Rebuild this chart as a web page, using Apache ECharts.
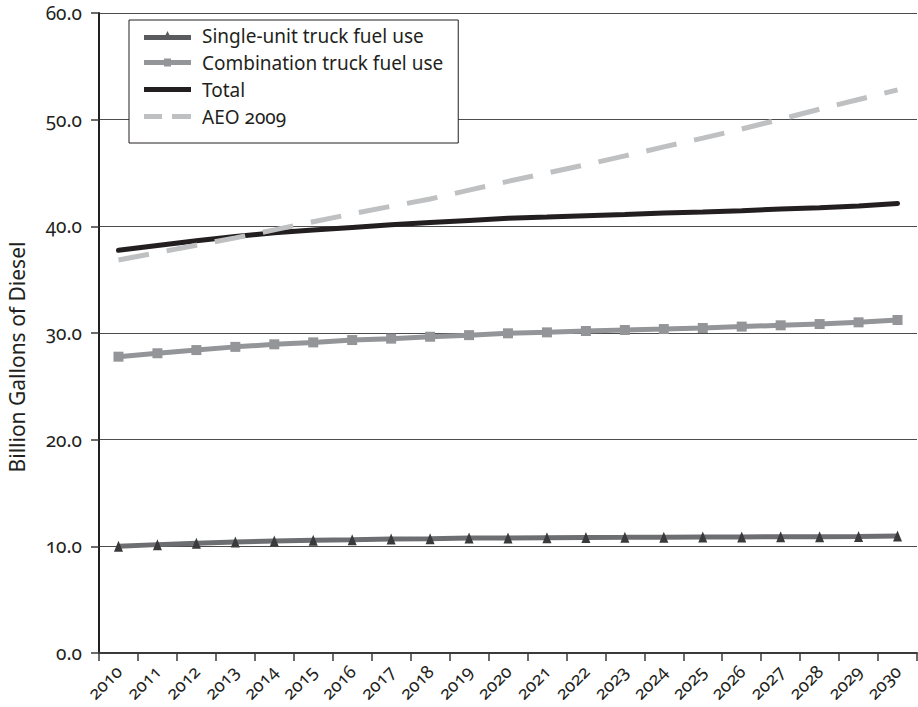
<!DOCTYPE html>
<html>
<head>
<meta charset="utf-8">
<script src="https://cdn.jsdelivr.net/npm/echarts@6/dist/echarts.min.js"></script>
<style>
	html, body { margin: 0; padding: 0; background: #fff; }
	#chart { width: 918px; height: 707px; }
	/* old style figures like the print original */
	svg text { font-variant-numeric: oldstyle-nums !important; font-feature-settings: "onum" 1 !important; }
</style>
</head>
<body>
<div id="chart"></div>
<script>
	// data
	var years = ['2010', '2011', '2012', '2013', '2014', '2015', '2016', '2017', '2018', '2019', '2020',
		'2021', '2022', '2023', '2024', '2025', '2026', '2027', '2028', '2029', '2030'];
	var singleUnit = [10.0, 10.16, 10.3, 10.41, 10.5, 10.56, 10.62, 10.69, 10.72, 10.77, 10.79,
		10.81, 10.83, 10.84, 10.86, 10.87, 10.88, 10.9, 10.91, 10.92, 10.96];
	var combination = [27.78, 28.1, 28.4, 28.7, 28.94, 29.12, 29.34, 29.47, 29.65, 29.8, 29.97,
		30.06, 30.19, 30.28, 30.37, 30.47, 30.6, 30.72, 30.84, 31.0, 31.22];
	var total = [37.75, 38.2, 38.65, 39.05, 39.4, 39.65, 39.9, 40.15, 40.35, 40.55, 40.75,
		40.87, 41.0, 41.12, 41.25, 41.35, 41.47, 41.62, 41.75, 41.9, 42.15];
	var aeo2009 = [36.85, 37.54, 38.23, 38.92, 39.67, 40.43, 41.17, 41.88, 42.56, 43.39, 44.21,
		45.0, 45.78, 46.6, 47.45, 48.27, 49.12, 50.04, 50.98, 51.89, 52.79];
	var yTicks = [0, 10, 20, 30, 40, 50, 60];

	var seriesNames = ['Single-unit truck fuel use', 'Combination truck fuel use', 'Total', 'AEO 2009'];
	var textColor = '#231f20';
	var font = 'Noto Sans';

	// legend icons: thick line with the marker, like the original key
	var iconTriangle = 'path://M0,4h47v5h-47z M23.5,0L28,9L19,9z';
	var iconSquare = 'path://M0,4h47v5h-47z M20,2.5h7v8h-7z';
	var iconSolid = 'path://M0,0h47v5h-47z';
	var iconDash = 'path://M0,0h18v5h-18z M28,0h19v5h-19z';

	var chart = echarts.init(document.getElementById('chart'), null, { renderer: 'svg' });

	var option = {
		animation: false,
		backgroundColor: '#ffffff',
		textStyle: { fontFamily: font, color: textColor },
		grid: {
			left: 99,
			right: 1,
			top: 13,
			bottom: 54,
			containLabel: false,
			outerBoundsMode: 'none'
		},
		legend: {
			orient: 'vertical',
			left: 129,
			top: 20,
			padding: [6, 15, 17, 15],
			itemGap: 8,
			itemWidth: 47,
			itemHeight: 12,
			backgroundColor: '#ffffff',
			borderColor: textColor,
			borderWidth: 1,
			borderRadius: 0,
			textStyle: { fontFamily: font, fontSize: 19, color: textColor, padding: [0, 0, 0, 6] },
			data: [
				{ name: seriesNames[0], icon: iconTriangle, itemStyle: { color: '#5a5b5e' } },
				{ name: seriesNames[1], icon: iconSquare, itemStyle: { color: '#939598' } },
				{ name: seriesNames[2], icon: iconSolid, itemStyle: { color: '#231f20' } },
				{ name: seriesNames[3], icon: iconDash, itemStyle: { color: '#bfc0c2' } }
			]
		},
		// y axis title
		graphic: [{
			type: 'text',
			x: 17,
			y: 357,
			rotation: Math.PI / 2,
			style: {
				text: 'Billion Gallons of Diesel',
				font: '21px "' + font + '"',
				fill: textColor,
				align: 'center',
				verticalAlign: 'middle'
			}
		}],
		xAxis: {
			type: 'category',
			data: years,
			boundaryGap: true,
			axisLine: { show: true, lineStyle: { color: '#3a3a3a', width: 2 } },
			axisTick: { show: true, inside: false, length: 8, lineStyle: { color: '#3a3a3a', width: 1.5 } },
			axisLabel: {
				interval: 0,
				rotate: 45,
				margin: 15,
				fontSize: 18,
				fontFamily: font,
				color: textColor
			},
			splitLine: { show: false }
		},
		yAxis: {
			type: 'value',
			min: yTicks[0],
			max: yTicks[yTicks.length - 1],
			interval: 10,
			axisLine: { show: true, lineStyle: { color: '#231f20', width: 2 } },
			axisTick: { show: true, inside: false, length: 8, lineStyle: { color: '#3a3a3a', width: 1.5 } },
			axisLabel: {
				margin: 17,
				fontSize: 19,
				fontFamily: font,
				color: textColor,
				formatter: function(v) {
					return v.toFixed(1);
				}
			},
			splitLine: { show: true, lineStyle: { color: '#4d4d4d', width: 1.2 } }
		},
		series: [{
				name: seriesNames[0],
				type: 'line',
				data: singleUnit,
				symbol: 'triangle',
				symbolSize: [9, 11],
				showAllSymbol: true,
				lineStyle: { color: '#6d6e71', width: 5 },
				itemStyle: { color: '#3a3a3c', borderWidth: 0 },
				z: 3
			},
			{
				name: seriesNames[1],
				type: 'line',
				data: combination,
				symbol: 'rect',
				symbolSize: 10,
				showAllSymbol: true,
				lineStyle: { color: '#939598', width: 5 },
				itemStyle: { color: '#939598', borderWidth: 0 },
				z: 3
			},
			{
				name: seriesNames[2],
				type: 'line',
				data: total,
				symbol: 'none',
				lineStyle: { color: '#231f20', width: 5, cap: 'round' },
				itemStyle: { color: '#231f20' },
				z: 3
			},
			{
				name: seriesNames[3],
				type: 'line',
				data: aeo2009,
				symbol: 'none',
				lineStyle: { color: '#bfc0c2', width: 5, type: [31, 18], cap: 'butt' },
				itemStyle: { color: '#bfc0c2' },
				z: 4
			}
		]
	};

	chart.setOption(option);
</script>
</body>
</html>
